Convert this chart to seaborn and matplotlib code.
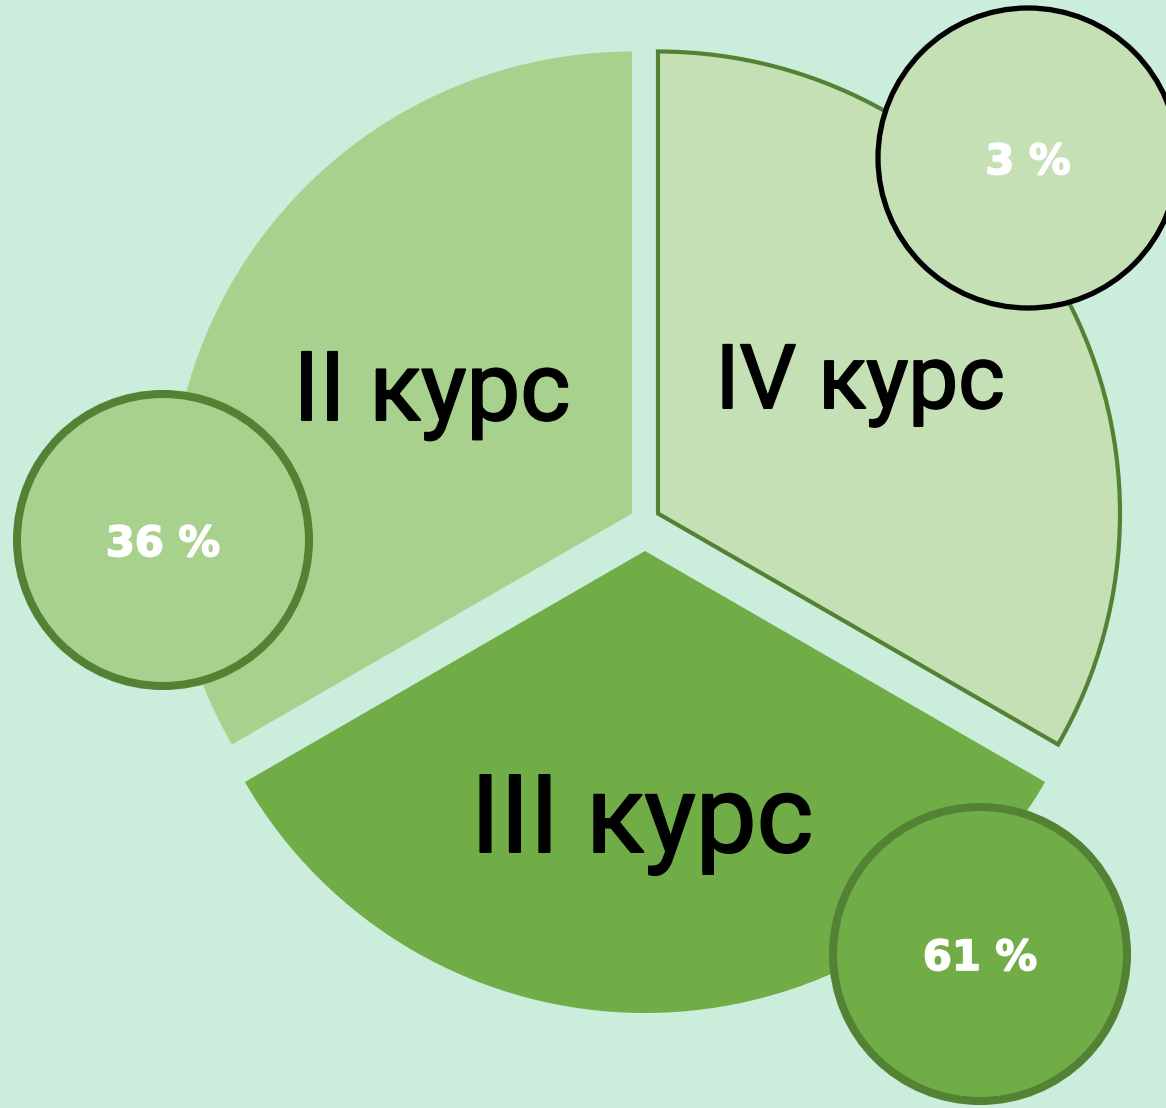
import matplotlib
matplotlib.use('Agg')
import matplotlib.pyplot as plt
import matplotlib.patheffects as pe
import seaborn as sns
from matplotlib.patches import Circle

# ============================================================
# DATA
# ============================================================
courses = ["II курс", "III курс", "IV курс"]
shares = [36, 61, 3]
slice_sizes = [1, 1, 1]          # the three sectors are drawn equal

fill_colors = ["#A9D18E", "#70AD47", "#C5E0B4"]
dark_green = "#548235"
bg_color = "#CBEDDB"

# layout (pixel coordinates, y from the top)
W, H = 1166, 1108
pie_center = (645, 521)
pie_radius = 462
explode = [15, 30, 15]           # pie() takes these in data units (px here)

course_text_pos = [(432, 420), (642, 852), (860, 408)]
course_text_size = [69, 78, 64]

bubble_pos = [(163, 540), (980, 954), (1028, 158)]
bubble_radius = [146, 147, 150]
bubble_edge = [dark_green, dark_green, "black"]
bubble_lw = [5.8, 5.8, 3.8]

# ============================================================
# PLOT
# ============================================================
sns.set_theme(style="white")
plt.rcParams['font.family'] = ['Roboto', 'DejaVu Sans']

fig = plt.figure(figsize=(W / 100, H / 100), dpi=100)
fig.patch.set_facecolor(bg_color)
ax = fig.add_axes([0, 0, 1, 1])
ax.set_facecolor(bg_color)

wedges, _ = ax.pie(slice_sizes, colors=fill_colors, center=pie_center,
                   radius=pie_radius, startangle=-90, counterclock=False,
                   explode=explode, wedgeprops=dict(linewidth=0))
# only the IV sector has an outline
wedges[2].set_edgecolor(dark_green)
wedges[2].set_linewidth(3)

ax.set_xlim(0, W)
ax.set_ylim(H, 0)
ax.set_aspect('equal')
ax.axis('off')

# slightly thickened regular weight, to get close to the DIN-like lettering
for name, (x, y), fs in zip(courses, course_text_pos, course_text_size):
    ax.text(x, y, name, ha='center', va='baseline', fontsize=fs,
            color='black', zorder=5,
            path_effects=[pe.withStroke(linewidth=1.4, foreground='black',
                                        joinstyle='round')])

for i, share in enumerate(shares):
    cx, cy = bubble_pos[i]
    ax.add_patch(Circle((cx, cy), bubble_radius[i], facecolor=fill_colors[i],
                        edgecolor=bubble_edge[i], linewidth=bubble_lw[i],
                        zorder=6))
    ax.text(cx, cy + 16, f"{share} %", ha='center', va='baseline',
            fontsize=30, fontweight='bold', color='white',
            family=['DejaVu Sans'], zorder=7,
            path_effects=[pe.withStroke(linewidth=1.2, foreground='white',
                                        joinstyle='round')])

plt.savefig("out.png", dpi=100, facecolor=bg_color)
